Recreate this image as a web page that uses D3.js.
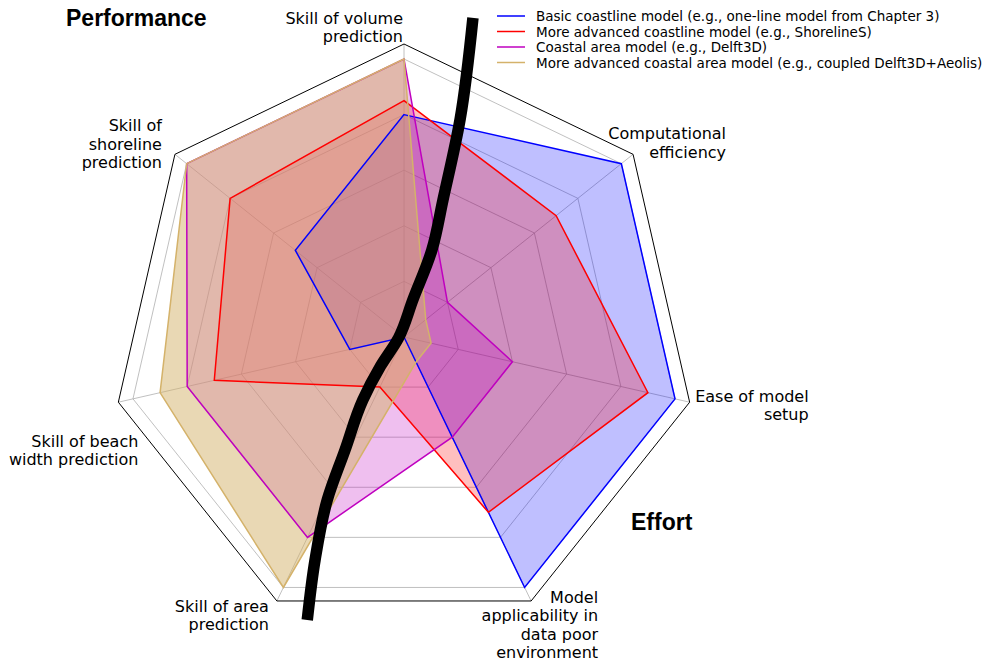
<!DOCTYPE html>
<html>
<head>
<meta charset="utf-8">
<script src="https://cdn.jsdelivr.net/npm/d3@7"></script>
<style>
  body { margin: 0; background: #fff; }
  .axis-label { font-family: "DejaVu Sans", sans-serif; font-size: 16px; fill: #000; }
  .legend-text { font-family: "DejaVu Sans", sans-serif; font-size: 13.5px; fill: #000; }
  .group-title { font-family: "Liberation Sans", Arial, sans-serif; font-weight: bold; font-size: 23px; fill: #000; }
</style>
</head>
<body>
<div id="chart"></div>
<script>
// axis names, clockwise from the top
var axisNames = [
    "Skill of volume\nprediction",
    "Computational\nefficiency",
    "Ease of model\nsetup",
    "Model\napplicability in\ndata poor\nenvironment",
    "Skill of area\nprediction",
    "Skill of beach\nwidth prediction",
    "Skill of\nshoreline\nprediction"
];

// scores per model (0 - 5)
var basicCoastline = [4, 5, 5, 5, 0, 1, 2.5];
var advancedCoastline = [4.25, 3.5, 4.5, 3.5, 1, 3.5, 4];
var coastalArea = [5, 1, 2, 2, 4, 4, 5];
var advancedCoastalArea = [5, 0.5, 0.5, 0.5, 5, 4.5, 5];

var seriesNames = [
    "Basic coastline model (e.g., one-line model from Chapter 3)",
    "More advanced coastline model (e.g., ShorelineS)",
    "Coastal area model (e.g., Delft3D)",
    "More advanced coastal area model (e.g., coupled Delft3D+Aeolis)"
];

var gridTicks = [1, 2, 3, 4, 5];

// dividing line between "Performance" and "Effort" (x, y in score units from the centre)
var dividerPoints = [
    [1.24, 5.74], [1.01, 3.92], [0.70, 2.46], [0.50, 1.56], [0.16, 0.67],
    [-0.10, -0.02], [-0.42, -0.52], [-0.74, -1.13], [-1.06, -2.03],
    [-1.38, -2.93], [-1.60, -4.01], [-1.74, -5.09]
];

// ---- layout ----
var width = 997, height = 662;
var cx = 404, cy = 337;
var rMax = 5.27, outerRadius = 293;

var colors = ["#0000ff", "#ff0000", "#bf00bf", "#d4b26a"];
var fillAlpha = [0.25, 0.25, 0.25, 0.5];

// offsets of label blocks (right edge, first baseline) from the outer vertex
var labelOffsets = [[-1, -20], [93, -15], [119, 0], [67, 2], [-8, 11], [20, 45], [-13, -23]];
var lineHeight = 18.3;

var svg = d3.select("#chart").append("svg")
    .attr("width", width)
    .attr("height", height);

var g = svg.append("g")
    .attr("transform", "translate(" + cx + "," + cy + ")");

var r = d3.scaleLinear().domain([0, rMax]).range([0, outerRadius]);
var angle = d3.scaleLinear().domain([0, axisNames.length]).range([0, 2 * Math.PI]);

function point(i, v) {
    var a = angle(i);
    return [r(v) * Math.sin(a), -r(v) * Math.cos(a)];
}

var radarLine = d3.lineRadial()
    .angle(function(d, i) { return angle(i); })
    .radius(function(d) { return r(d); })
    .curve(d3.curveLinearClosed);

// grid rings
gridTicks.forEach(function(t) {
    g.append("path")
        .attr("d", radarLine(axisNames.map(function() { return t; })))
        .attr("fill", "none")
        .attr("stroke", "#b0b0b0")
        .attr("stroke-width", 0.8);
});

// spokes
axisNames.forEach(function(name, i) {
    var p = point(i, rMax);
    g.append("line")
        .attr("x1", 0).attr("y1", 0)
        .attr("x2", p[0]).attr("y2", p[1])
        .attr("stroke", "#b0b0b0")
        .attr("stroke-width", 0.8);
});

// frame
g.append("path")
    .attr("d", radarLine(axisNames.map(function() { return rMax; })))
    .attr("fill", "none")
    .attr("stroke", "#000")
    .attr("stroke-width", 1);

// model polygons: fills first, outlines on top
var allSeries = [basicCoastline, advancedCoastline, coastalArea, advancedCoastalArea];
allSeries.forEach(function(s, k) {
    g.append("path")
        .attr("d", radarLine(s))
        .attr("fill", colors[k])
        .attr("fill-opacity", fillAlpha[k])
        .attr("stroke", "none");
});
allSeries.forEach(function(s, k) {
    g.append("path")
        .attr("d", radarLine(s))
        .attr("fill", "none")
        .attr("stroke", colors[k])
        .attr("stroke-width", 1.5)
        .attr("stroke-linejoin", "miter");
});

// axis labels
axisNames.forEach(function(name, i) {
    var p = point(i, rMax);
    var lines = name.split("\n");
    var x = p[0] + labelOffsets[i][0];
    var y = p[1] + labelOffsets[i][1];
    var txt = g.append("text")
        .attr("class", "axis-label")
        .attr("text-anchor", "end");
    lines.forEach(function(l, j) {
        txt.append("tspan")
            .attr("x", x)
            .attr("y", y + j * lineHeight)
            .text(l);
    });
});

// divider curve
var divider = d3.line()
    .x(function(d) { return r(d[0]); })
    .y(function(d) { return -r(d[1]); })
    .curve(d3.curveMonotoneY);

g.append("path")
    .attr("d", divider(dividerPoints))
    .attr("fill", "none")
    .attr("stroke", "#000")
    .attr("stroke-width", 11.5);

// group titles
svg.append("text").attr("class", "group-title")
    .attr("x", 66).attr("y", 26).text("Performance");
svg.append("text").attr("class", "group-title")
    .attr("x", 631).attr("y", 530).text("Effort");

// legend
var legend = svg.append("g").attr("transform", "translate(497,16)");
seriesNames.forEach(function(name, k) {
    var row = legend.append("g").attr("transform", "translate(0," + (k * 15.5) + ")");
    row.append("line")
        .attr("x1", 0).attr("x2", 28)
        .attr("y1", 0).attr("y2", 0)
        .attr("stroke", colors[k])
        .attr("stroke-width", 1.5);
    row.append("text")
        .attr("class", "legend-text")
        .attr("x", 39)
        .attr("y", 5)
        .text(name);
});
</script>
</body>
</html>
